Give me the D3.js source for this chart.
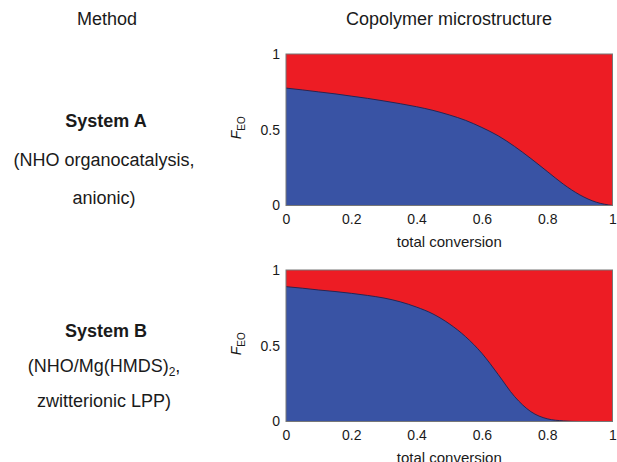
<!DOCTYPE html>
<html>
<head>
<meta charset="utf-8">
<script src="https://cdn.jsdelivr.net/npm/d3@7"></script>
<style>
  body { margin: 0; background: #fff; }
  svg { display: block; font-family: "Liberation Sans", Arial, sans-serif; }
</style>
</head>
<body>
<div class="chart"></div>
<script>
// total conversion sampled along the x axis
var conversion = [0, 0.05, 0.1, 0.15, 0.2, 0.25, 0.3, 0.35, 0.4, 0.45, 0.5,
                  0.55, 0.6, 0.65, 0.7, 0.75, 0.8, 0.85, 0.9, 0.95, 1];
// cumulative EO fraction
var fEO_A = [0.775, 0.763, 0.75, 0.737, 0.722, 0.707, 0.69, 0.672, 0.652, 0.628, 0.598,
             0.562, 0.515, 0.46, 0.39, 0.31, 0.225, 0.14, 0.07, 0.022, 0];
var fEO_B = [0.89, 0.88, 0.868, 0.858, 0.846, 0.832, 0.815, 0.79, 0.755, 0.71, 0.645,
             0.56, 0.45, 0.31, 0.165, 0.065, 0.018, 0.004, 0, 0, 0];
var xTicks = [0, 0.2, 0.4, 0.6, 0.8, 1];
var yTicks = [0, 0.5, 1];
var systemNames = ["System A", "System B"];
var systemLine1 = ["(NHO organocatalysis,", "(NHO/Mg(HMDS)"];
var systemLine2 = ["anionic)", "zwitterionic LPP)"];

var width = 617, height = 462;
var plotLeft = 286, plotW = 326.5, plotH = 151.5;
var panelTop = [54, 270];
var red = "#ED1C24", blue = "#3953A4", ink = "#1a1a1a";

var svg = d3.select(".chart")
  .append("svg")
    .attr("width", width)
    .attr("height", height);

// column headers
svg.append("text")
  .attr("x", 107).attr("y", 25)
  .attr("text-anchor", "middle")
  .attr("font-size", 18).attr("fill", ink)
  .text("Method");
svg.append("text")
  .attr("x", 449).attr("y", 25)
  .attr("text-anchor", "middle")
  .attr("font-size", 18).attr("fill", ink)
  .text("Copolymer microstructure");

var x = d3.scaleLinear().domain([0, 1]).range([0, plotW]);
var y = d3.scaleLinear().domain([0, 1]).range([plotH, 0]);

var series = [fEO_A, fEO_B];
// method text baselines per panel
var textY = [[127, 166, 204], [337, 372, 407]];

series.forEach(function(vals, i){
    var pts = conversion.map((c, k) => ({c: c, f: vals[k]}));

    // method description on the left
    svg.append("text")
      .attr("x", 106).attr("y", textY[i][0])
      .attr("text-anchor", "middle")
      .attr("font-size", 18).attr("font-weight", "bold").attr("fill", ink)
      .text(systemNames[i]);
    var l1 = svg.append("text")
      .attr("x", 104).attr("y", textY[i][1])
      .attr("text-anchor", "middle")
      .attr("font-size", 18).attr("fill", ink);
    l1.append("tspan").text(systemLine1[i]);
    if (i == 1) {
        l1.append("tspan").attr("font-size", 12).attr("dy", 4).text("2");
        l1.append("tspan").attr("dy", -4).text(",");
    }
    svg.append("text")
      .attr("x", 104).attr("y", textY[i][2])
      .attr("text-anchor", "middle")
      .attr("font-size", 18).attr("fill", ink)
      .text(systemLine2[i]);

    var g = svg.append("g")
      .attr("transform", "translate(" + plotLeft + "," + panelTop[i] + ")");

    // PO part fills the whole box, EO part is the area under the curve
    g.append("rect")
      .attr("x", x(0)).attr("y", y(1))
      .attr("width", x(1) - x(0)).attr("height", y(0) - y(1))
      .attr("fill", red);

    g.append("path")
      .datum(pts)
      .attr("fill", blue)
      .attr("d", d3.area()
        .curve(d3.curveMonotoneX)
        .x(d => x(d.c))
        .y0(y(0))
        .y1(d => y(d.f)));

    g.append("path")
      .datum(pts)
      .attr("fill", "none")
      .attr("stroke", "#1c2250")
      .attr("stroke-width", 0.9)
      .attr("d", d3.line()
        .curve(d3.curveMonotoneX)
        .x(d => x(d.c))
        .y(d => y(d.f)));

    g.append("rect")
      .attr("x", x(0)).attr("y", y(1))
      .attr("width", x(1) - x(0)).attr("height", y(0) - y(1))
      .attr("fill", "none")
      .attr("stroke", "#777")
      .attr("stroke-width", 1);

    var xAxis = g.append("g")
      .attr("transform", "translate(0," + plotH + ")")
      .call(d3.axisBottom(x).tickValues(xTicks).tickSize(0).tickPadding(9)
        .tickFormat(d3.format("~g")));
    var yAxis = g.append("g")
      .call(d3.axisLeft(y).tickValues(yTicks).tickSize(0).tickPadding(6)
        .tickFormat(d3.format("~g")));
    [xAxis, yAxis].forEach(function(a){
        a.select(".domain").remove();
        a.selectAll("text")
          .attr("font-family", "Liberation Sans, Arial, sans-serif")
          .attr("font-size", 14)
          .attr("fill", ink);
    });

    g.append("text")
      .attr("x", plotW / 2).attr("y", plotH + 41)
      .attr("text-anchor", "middle")
      .attr("font-size", 15).attr("fill", ink)
      .text("total conversion");

    var lab = g.append("text")
      .attr("transform", "translate(-45," + (plotH / 2 - 2) + ") rotate(-90)")
      .attr("text-anchor", "middle")
      .attr("font-size", 14).attr("fill", ink);
    lab.append("tspan").attr("font-style", "italic").text("F");
    lab.append("tspan").attr("font-size", 10).attr("dy", 4).text("EO");
});
</script>
</body>
</html>
